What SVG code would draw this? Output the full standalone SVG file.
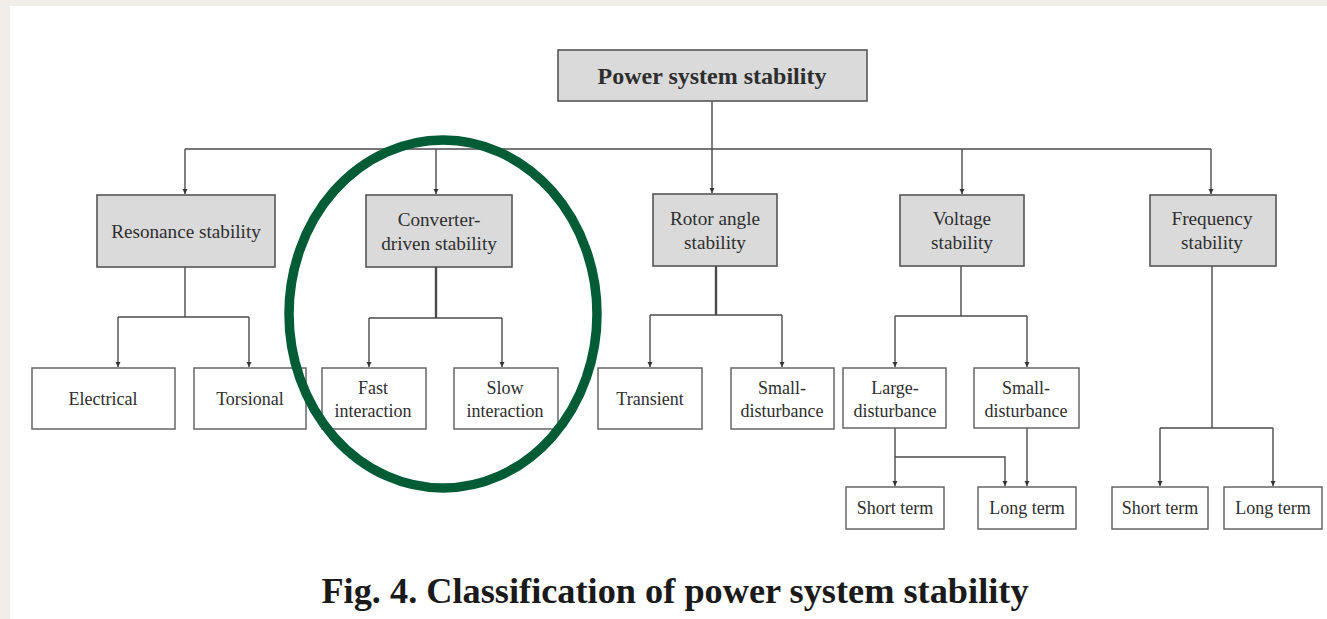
<svg xmlns="http://www.w3.org/2000/svg" width="1327" height="619" viewBox="0 0 1327 619">
<style>
.box{fill:#dadada;stroke:#555;stroke-width:1.6}
.leaf{fill:#fff;stroke:#666;stroke-width:1.5}
.t{font-family:"Liberation Serif","Times New Roman",serif;fill:#2e2e2e;text-anchor:middle}
.t2{font-size:19.2px}
.t3{font-size:18px}
.c{fill:none;stroke:#4a4a4a;stroke-width:1.4}
.thick{stroke-width:2.4}
</style>
<defs>
<marker id="ah" markerUnits="userSpaceOnUse" markerWidth="6" markerHeight="6" viewBox="0 0 6 6" refX="5" refY="3" orient="auto">
<path d="M0,0.5 L5,3 L0,5.5 Z" fill="#333"/>
</marker>
</defs>
<rect x="0" y="0" width="1327" height="619" fill="#f1eeea"/>
<rect x="10" y="6" width="1317" height="613" fill="#ffffff"/>

<g id="connectors">
<path class="c" d="M712,101 V149"/>
<path class="c" d="M185,149 H1211"/>
<path class="c" d="M185,149 V194" marker-end="url(#ah)"/>
<path class="c" d="M436,149 V194" marker-end="url(#ah)"/>
<path class="c" d="M712,149 V193" marker-end="url(#ah)"/>
<path class="c" d="M962,149 V194" marker-end="url(#ah)"/>
<path class="c" d="M1211,149 V194" marker-end="url(#ah)"/>

<path class="c" d="M185,267 V317"/>
<path class="c" d="M118,317 H249"/>
<path class="c" d="M118,317 V367" marker-end="url(#ah)"/>
<path class="c" d="M249,317 V367" marker-end="url(#ah)"/>

<path class="c thick" d="M436,267 V318"/>
<path class="c" d="M369,318 H502"/>
<path class="c" d="M369,318 V367" marker-end="url(#ah)"/>
<path class="c" d="M502,318 V367" marker-end="url(#ah)"/>

<path class="c thick" d="M716,266 V315"/>
<path class="c" d="M650,315 H782"/>
<path class="c" d="M650,315 V367" marker-end="url(#ah)"/>
<path class="c" d="M782,315 V367" marker-end="url(#ah)"/>

<path class="c" d="M961,266 V316"/>
<path class="c" d="M895,316 H1027"/>
<path class="c" d="M895,316 V367" marker-end="url(#ah)"/>
<path class="c" d="M1027,316 V367" marker-end="url(#ah)"/>

<path class="c" d="M895,428 V486" marker-end="url(#ah)"/>
<path class="c" d="M895,457 H1005 V486" marker-end="url(#ah)"/>
<path class="c" d="M1027,428 V486" marker-end="url(#ah)"/>

<path class="c" d="M1212,266 V428"/>
<path class="c" d="M1160,428 H1273"/>
<path class="c" d="M1160,428 V486" marker-end="url(#ah)"/>
<path class="c" d="M1273,428 V486" marker-end="url(#ah)"/>
</g>

<g id="n-root">
<rect class="box" x="558" y="50" width="309" height="51"/>
<text class="t" x="712" y="84" font-size="24" font-weight="bold" fill="#1e1e1e">Power system stability</text>
</g>

<g id="n-resonance">
<rect class="box" x="97" y="195" width="178" height="72"/>
<text class="t t2" x="186" y="238">Resonance stability</text>
</g>
<g id="n-converter">
<rect class="box" x="366" y="195" width="146" height="72"/>
<text class="t t2" x="439" y="226">Converter-</text>
<text class="t t2" x="439" y="250">driven stability</text>
</g>
<g id="n-rotor">
<rect class="box" x="653" y="194" width="124" height="72"/>
<text class="t t2" x="715" y="225">Rotor angle</text>
<text class="t t2" x="715" y="249">stability</text>
</g>
<g id="n-voltage">
<rect class="box" x="900" y="195" width="124" height="71"/>
<text class="t t2" x="962" y="225">Voltage</text>
<text class="t t2" x="962" y="249">stability</text>
</g>
<g id="n-frequency">
<rect class="box" x="1150" y="195" width="126" height="71"/>
<text class="t t2" x="1212" y="225">Frequency</text>
<text class="t t2" x="1212" y="249">stability</text>
</g>

<g id="n-electrical">
<rect class="leaf" x="32" y="368" width="143" height="61"/>
<text class="t t3" x="103" y="405">Electrical</text>
</g>
<g id="n-torsional">
<rect class="leaf" x="194" y="368" width="112" height="61"/>
<text class="t t3" x="250" y="405">Torsional</text>
</g>
<g id="n-fast">
<rect class="leaf" x="322" y="368" width="104" height="61"/>
<text class="t t3" x="373" y="394">Fast</text>
<text class="t t3" x="373" y="417">interaction</text>
</g>
<g id="n-slow">
<rect class="leaf" x="454" y="368" width="104" height="61"/>
<text class="t t3" x="505" y="394">Slow</text>
<text class="t t3" x="505" y="417">interaction</text>
</g>
<g id="n-transient">
<rect class="leaf" x="598" y="368" width="104" height="61"/>
<text class="t t3" x="650" y="405">Transient</text>
</g>
<g id="n-small-rotor">
<rect class="leaf" x="731" y="368" width="103" height="61"/>
<text class="t t3" x="782" y="394">Small-</text>
<text class="t t3" x="782" y="417">disturbance</text>
</g>
<g id="n-large-voltage">
<rect class="leaf" x="843" y="368" width="103" height="60"/>
<text class="t t3" x="895" y="394">Large-</text>
<text class="t t3" x="895" y="417">disturbance</text>
</g>
<g id="n-small-voltage">
<rect class="leaf" x="974" y="368" width="105" height="60"/>
<text class="t t3" x="1026" y="394">Small-</text>
<text class="t t3" x="1026" y="417">disturbance</text>
</g>

<g id="n-short-v">
<rect class="leaf" x="846" y="487" width="98" height="42"/>
<text class="t t3" x="895" y="514">Short term</text>
</g>
<g id="n-long-v">
<rect class="leaf" x="978" y="487" width="98" height="42"/>
<text class="t t3" x="1027" y="514">Long term</text>
</g>
<g id="n-short-f">
<rect class="leaf" x="1112" y="487" width="96" height="42"/>
<text class="t t3" x="1160" y="514">Short term</text>
</g>
<g id="n-long-f">
<rect class="leaf" x="1224" y="487" width="98" height="42"/>
<text class="t t3" x="1273" y="514">Long term</text>
</g>

<ellipse id="highlight" cx="443" cy="314" rx="154" ry="174" fill="none" stroke="#025c36" stroke-width="9.5"/>

<text id="caption" x="675" y="603" font-family="'Liberation Serif','Times New Roman',serif" font-size="36.3" font-weight="bold" fill="#1a1a1a" text-anchor="middle">Fig. 4. Classification of power system stability</text>
</svg>
